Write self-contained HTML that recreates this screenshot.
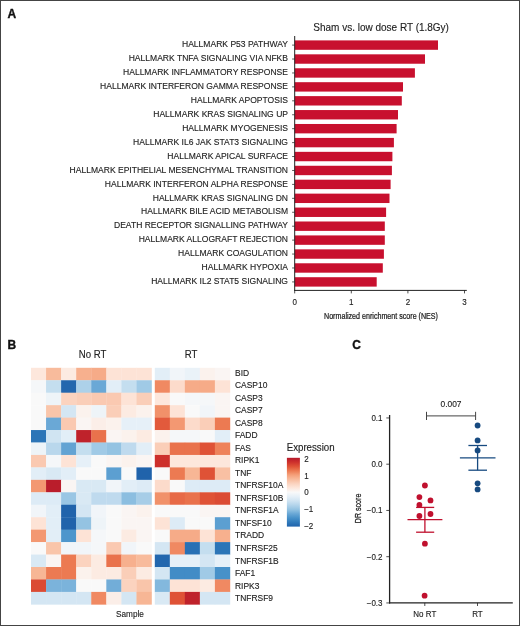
<!DOCTYPE html><html><head><meta charset="utf-8"><style>html,body{margin:0;padding:0;background:#fff}body{width:520px;height:626px;overflow:hidden}svg{display:block;will-change:transform}text{font-family:"Liberation Sans",sans-serif}</style></head><body>
<svg width="520" height="626" viewBox="0 0 520 626">
<rect x="0" y="0" width="520" height="626" fill="#fff"/>
<text transform="translate(7.60 17.60) scale(1.0 1)" x="0" y="0" font-size="12" text-anchor="start" fill="#111" stroke="#111" stroke-width="0.35" font-weight="bold">A</text>
<text transform="translate(7.40 348.80) scale(1.0 1)" x="0" y="0" font-size="12" text-anchor="start" fill="#111" stroke="#111" stroke-width="0.35" font-weight="bold">B</text>
<text transform="translate(352.20 348.80) scale(1.0 1)" x="0" y="0" font-size="12" text-anchor="start" fill="#111" stroke="#111" stroke-width="0.35" font-weight="bold">C</text>
<text transform="translate(313.30 30.50) scale(1.0 1.07)" x="0" y="0" font-size="10" text-anchor="start" fill="#222" stroke="#222" stroke-width="0.12">Sham vs. low dose RT (1.8Gy)</text>
<rect x="294.7" y="40.40" width="143.30" height="9.4" fill="#c8102e"/>
<text transform="translate(288.00 47.30) scale(1.0 1.07)" x="0" y="0" font-size="8.55" text-anchor="end" fill="#222" stroke="#222" stroke-width="0.12">HALLMARK P53 PATHWAY</text>
<line x1="292.09999999999997" x2="294.7" y1="45.10" y2="45.10" stroke="#333" stroke-width="0.8"/>
<rect x="294.7" y="54.33" width="130.30" height="9.4" fill="#c8102e"/>
<text transform="translate(288.00 61.23) scale(1.0 1.07)" x="0" y="0" font-size="8.55" text-anchor="end" fill="#222" stroke="#222" stroke-width="0.12">HALLMARK TNFA SIGNALING VIA NFKB</text>
<line x1="292.09999999999997" x2="294.7" y1="59.03" y2="59.03" stroke="#333" stroke-width="0.8"/>
<rect x="294.7" y="68.26" width="120.20" height="9.4" fill="#c8102e"/>
<text transform="translate(288.00 75.16) scale(1.0 1.07)" x="0" y="0" font-size="8.55" text-anchor="end" fill="#222" stroke="#222" stroke-width="0.12">HALLMARK INFLAMMATORY RESPONSE</text>
<line x1="292.09999999999997" x2="294.7" y1="72.96" y2="72.96" stroke="#333" stroke-width="0.8"/>
<rect x="294.7" y="82.19" width="108.30" height="9.4" fill="#c8102e"/>
<text transform="translate(288.00 89.09) scale(1.0 1.07)" x="0" y="0" font-size="8.55" text-anchor="end" fill="#222" stroke="#222" stroke-width="0.12">HALLMARK INTERFERON GAMMA RESPONSE</text>
<line x1="292.09999999999997" x2="294.7" y1="86.89" y2="86.89" stroke="#333" stroke-width="0.8"/>
<rect x="294.7" y="96.12" width="107.10" height="9.4" fill="#c8102e"/>
<text transform="translate(288.00 103.02) scale(1.0 1.07)" x="0" y="0" font-size="8.55" text-anchor="end" fill="#222" stroke="#222" stroke-width="0.12">HALLMARK APOPTOSIS</text>
<line x1="292.09999999999997" x2="294.7" y1="100.82" y2="100.82" stroke="#333" stroke-width="0.8"/>
<rect x="294.7" y="110.05" width="103.30" height="9.4" fill="#c8102e"/>
<text transform="translate(288.00 116.95) scale(1.0 1.07)" x="0" y="0" font-size="8.55" text-anchor="end" fill="#222" stroke="#222" stroke-width="0.12">HALLMARK KRAS SIGNALING UP</text>
<line x1="292.09999999999997" x2="294.7" y1="114.75" y2="114.75" stroke="#333" stroke-width="0.8"/>
<rect x="294.7" y="123.98" width="101.90" height="9.4" fill="#c8102e"/>
<text transform="translate(288.00 130.88) scale(1.0 1.07)" x="0" y="0" font-size="8.55" text-anchor="end" fill="#222" stroke="#222" stroke-width="0.12">HALLMARK MYOGENESIS</text>
<line x1="292.09999999999997" x2="294.7" y1="128.68" y2="128.68" stroke="#333" stroke-width="0.8"/>
<rect x="294.7" y="137.91" width="99.20" height="9.4" fill="#c8102e"/>
<text transform="translate(288.00 144.81) scale(1.0 1.07)" x="0" y="0" font-size="8.55" text-anchor="end" fill="#222" stroke="#222" stroke-width="0.12">HALLMARK IL6 JAK STAT3 SIGNALING</text>
<line x1="292.09999999999997" x2="294.7" y1="142.61" y2="142.61" stroke="#333" stroke-width="0.8"/>
<rect x="294.7" y="151.84" width="97.70" height="9.4" fill="#c8102e"/>
<text transform="translate(288.00 158.74) scale(1.0 1.07)" x="0" y="0" font-size="8.55" text-anchor="end" fill="#222" stroke="#222" stroke-width="0.12">HALLMARK APICAL SURFACE</text>
<line x1="292.09999999999997" x2="294.7" y1="156.54" y2="156.54" stroke="#333" stroke-width="0.8"/>
<rect x="294.7" y="165.77" width="97.20" height="9.4" fill="#c8102e"/>
<text transform="translate(288.00 172.67) scale(1.0 1.07)" x="0" y="0" font-size="8.55" text-anchor="end" fill="#222" stroke="#222" stroke-width="0.12">HALLMARK EPITHELIAL MESENCHYMAL TRANSITION</text>
<line x1="292.09999999999997" x2="294.7" y1="170.47" y2="170.47" stroke="#333" stroke-width="0.8"/>
<rect x="294.7" y="179.70" width="95.90" height="9.4" fill="#c8102e"/>
<text transform="translate(288.00 186.60) scale(1.0 1.07)" x="0" y="0" font-size="8.55" text-anchor="end" fill="#222" stroke="#222" stroke-width="0.12">HALLMARK INTERFERON ALPHA RESPONSE</text>
<line x1="292.09999999999997" x2="294.7" y1="184.40" y2="184.40" stroke="#333" stroke-width="0.8"/>
<rect x="294.7" y="193.63" width="94.80" height="9.4" fill="#c8102e"/>
<text transform="translate(288.00 200.53) scale(1.0 1.07)" x="0" y="0" font-size="8.55" text-anchor="end" fill="#222" stroke="#222" stroke-width="0.12">HALLMARK KRAS SIGNALING DN</text>
<line x1="292.09999999999997" x2="294.7" y1="198.33" y2="198.33" stroke="#333" stroke-width="0.8"/>
<rect x="294.7" y="207.56" width="91.40" height="9.4" fill="#c8102e"/>
<text transform="translate(288.00 214.46) scale(1.0 1.07)" x="0" y="0" font-size="8.55" text-anchor="end" fill="#222" stroke="#222" stroke-width="0.12">HALLMARK BILE ACID METABOLISM</text>
<line x1="292.09999999999997" x2="294.7" y1="212.26" y2="212.26" stroke="#333" stroke-width="0.8"/>
<rect x="294.7" y="221.49" width="90.10" height="9.4" fill="#c8102e"/>
<text transform="translate(288.00 228.39) scale(1.0 1.07)" x="0" y="0" font-size="8.55" text-anchor="end" fill="#222" stroke="#222" stroke-width="0.12">DEATH RECEPTOR SIGNALLING PATHWAY</text>
<line x1="292.09999999999997" x2="294.7" y1="226.19" y2="226.19" stroke="#333" stroke-width="0.8"/>
<rect x="294.7" y="235.42" width="90.10" height="9.4" fill="#c8102e"/>
<text transform="translate(288.00 242.32) scale(1.0 1.07)" x="0" y="0" font-size="8.55" text-anchor="end" fill="#222" stroke="#222" stroke-width="0.12">HALLMARK ALLOGRAFT REJECTION</text>
<line x1="292.09999999999997" x2="294.7" y1="240.12" y2="240.12" stroke="#333" stroke-width="0.8"/>
<rect x="294.7" y="249.35" width="89.20" height="9.4" fill="#c8102e"/>
<text transform="translate(288.00 256.25) scale(1.0 1.07)" x="0" y="0" font-size="8.55" text-anchor="end" fill="#222" stroke="#222" stroke-width="0.12">HALLMARK COAGULATION</text>
<line x1="292.09999999999997" x2="294.7" y1="254.05" y2="254.05" stroke="#333" stroke-width="0.8"/>
<rect x="294.7" y="263.28" width="88.10" height="9.4" fill="#c8102e"/>
<text transform="translate(288.00 270.18) scale(1.0 1.07)" x="0" y="0" font-size="8.55" text-anchor="end" fill="#222" stroke="#222" stroke-width="0.12">HALLMARK HYPOXIA</text>
<line x1="292.09999999999997" x2="294.7" y1="267.98" y2="267.98" stroke="#333" stroke-width="0.8"/>
<rect x="294.7" y="277.21" width="82.00" height="9.4" fill="#c8102e"/>
<text transform="translate(288.00 284.11) scale(1.0 1.07)" x="0" y="0" font-size="8.55" text-anchor="end" fill="#222" stroke="#222" stroke-width="0.12">HALLMARK IL2 STAT5 SIGNALING</text>
<line x1="292.09999999999997" x2="294.7" y1="281.91" y2="281.91" stroke="#333" stroke-width="0.8"/>
<line x1="294.7" x2="294.7" y1="36" y2="290.9" stroke="#222" stroke-width="1"/>
<line x1="294.2" x2="466.8" y1="290.4" y2="290.4" stroke="#222" stroke-width="1"/>
<line x1="294.70" x2="294.70" y1="290.4" y2="293.4" stroke="#222" stroke-width="0.8"/>
<text transform="translate(294.70 305.10) scale(1.0 1.07)" x="0" y="0" font-size="8" text-anchor="middle" fill="#222" stroke="#222" stroke-width="0.12">0</text>
<line x1="351.30" x2="351.30" y1="290.4" y2="293.4" stroke="#222" stroke-width="0.8"/>
<text transform="translate(351.30 305.10) scale(1.0 1.07)" x="0" y="0" font-size="8" text-anchor="middle" fill="#222" stroke="#222" stroke-width="0.12">1</text>
<line x1="407.90" x2="407.90" y1="290.4" y2="293.4" stroke="#222" stroke-width="0.8"/>
<text transform="translate(407.90 305.10) scale(1.0 1.07)" x="0" y="0" font-size="8" text-anchor="middle" fill="#222" stroke="#222" stroke-width="0.12">2</text>
<line x1="464.50" x2="464.50" y1="290.4" y2="293.4" stroke="#222" stroke-width="0.8"/>
<text transform="translate(464.50 305.10) scale(1.0 1.07)" x="0" y="0" font-size="8" text-anchor="middle" fill="#222" stroke="#222" stroke-width="0.12">3</text>
<text transform="translate(381.00 319.00) scale(0.81 1.0)" x="0" y="0" font-size="8.8" text-anchor="middle" fill="#222" stroke="#222" stroke-width="0.25">Normalized enrichment score (NES)</text>
<text transform="translate(92.60 357.60) scale(1.0 1.07)" x="0" y="0" font-size="9.6" text-anchor="middle" fill="#222" stroke="#222" stroke-width="0.12">No RT</text>
<text transform="translate(191.00 357.60) scale(1.0 1.07)" x="0" y="0" font-size="9.6" text-anchor="middle" fill="#222" stroke="#222" stroke-width="0.12">RT</text>
<rect x="31.00" y="367.80" width="15.36" height="12.75" fill="#fde7dc"/>
<rect x="46.06" y="367.80" width="15.36" height="12.75" fill="#f8bb9c"/>
<rect x="61.12" y="367.80" width="15.36" height="12.75" fill="#fcebe2"/>
<rect x="76.19" y="367.80" width="15.36" height="12.75" fill="#f7b08e"/>
<rect x="91.25" y="367.80" width="15.36" height="12.75" fill="#f6ab88"/>
<rect x="106.31" y="367.80" width="15.36" height="12.75" fill="#fde3d6"/>
<rect x="121.38" y="367.80" width="15.36" height="12.75" fill="#fde3d6"/>
<rect x="136.44" y="367.80" width="15.36" height="12.75" fill="#fde3d6"/>
<rect x="154.80" y="367.80" width="15.32" height="12.75" fill="#e2eef7"/>
<rect x="169.82" y="367.80" width="15.32" height="12.75" fill="#f1f5f9"/>
<rect x="184.84" y="367.80" width="15.32" height="12.75" fill="#eaf2f8"/>
<rect x="199.86" y="367.80" width="15.32" height="12.75" fill="#fbf2ed"/>
<rect x="214.88" y="367.80" width="15.32" height="12.75" fill="#faf5f3"/>
<text transform="translate(235.00 375.70) scale(1.0 1.07)" x="0" y="0" font-size="8.45" text-anchor="start" fill="#222" stroke="#222" stroke-width="0.12">BID</text>
<rect x="31.00" y="380.25" width="15.36" height="12.75" fill="#f5f7f9"/>
<rect x="46.06" y="380.25" width="15.36" height="12.75" fill="#c4deef"/>
<rect x="61.12" y="380.25" width="15.36" height="12.75" fill="#2367ae"/>
<rect x="76.19" y="380.25" width="15.36" height="12.75" fill="#add1e9"/>
<rect x="91.25" y="380.25" width="15.36" height="12.75" fill="#6aa8d6"/>
<rect x="106.31" y="380.25" width="15.36" height="12.75" fill="#e2eef7"/>
<rect x="121.38" y="380.25" width="15.36" height="12.75" fill="#c4deef"/>
<rect x="136.44" y="380.25" width="15.36" height="12.75" fill="#a0cae6"/>
<rect x="154.80" y="380.25" width="15.32" height="12.75" fill="#f08962"/>
<rect x="169.82" y="380.25" width="15.32" height="12.75" fill="#fcdbcb"/>
<rect x="184.84" y="380.25" width="15.32" height="12.75" fill="#f6ab88"/>
<rect x="199.86" y="380.25" width="15.32" height="12.75" fill="#f6ab88"/>
<rect x="214.88" y="380.25" width="15.32" height="12.75" fill="#fde3d6"/>
<text transform="translate(235.00 388.22) scale(1.0 1.07)" x="0" y="0" font-size="8.45" text-anchor="start" fill="#222" stroke="#222" stroke-width="0.12">CASP10</text>
<rect x="31.00" y="392.70" width="15.36" height="12.75" fill="#f9f9f9"/>
<rect x="46.06" y="392.70" width="15.36" height="12.75" fill="#eef4f8"/>
<rect x="61.12" y="392.70" width="15.36" height="12.75" fill="#fbd3bf"/>
<rect x="76.19" y="392.70" width="15.36" height="12.75" fill="#faceb8"/>
<rect x="91.25" y="392.70" width="15.36" height="12.75" fill="#fac9b1"/>
<rect x="106.31" y="392.70" width="15.36" height="12.75" fill="#fac9b1"/>
<rect x="121.38" y="392.70" width="15.36" height="12.75" fill="#fde3d6"/>
<rect x="136.44" y="392.70" width="15.36" height="12.75" fill="#faceb8"/>
<rect x="154.80" y="392.70" width="15.32" height="12.75" fill="#fde7dc"/>
<rect x="169.82" y="392.70" width="15.32" height="12.75" fill="#f9f9f9"/>
<rect x="184.84" y="392.70" width="15.32" height="12.75" fill="#f5f7f9"/>
<rect x="199.86" y="392.70" width="15.32" height="12.75" fill="#f5f7f9"/>
<rect x="214.88" y="392.70" width="15.32" height="12.75" fill="#faf5f3"/>
<text transform="translate(235.00 400.74) scale(1.0 1.07)" x="0" y="0" font-size="8.45" text-anchor="start" fill="#222" stroke="#222" stroke-width="0.12">CASP3</text>
<rect x="31.00" y="405.15" width="15.36" height="12.75" fill="#f9f9f9"/>
<rect x="46.06" y="405.15" width="15.36" height="12.75" fill="#f9c5aa"/>
<rect x="61.12" y="405.15" width="15.36" height="12.75" fill="#d4e6f3"/>
<rect x="76.19" y="405.15" width="15.36" height="12.75" fill="#fbf2ed"/>
<rect x="91.25" y="405.15" width="15.36" height="12.75" fill="#eef4f8"/>
<rect x="106.31" y="405.15" width="15.36" height="12.75" fill="#faceb8"/>
<rect x="121.38" y="405.15" width="15.36" height="12.75" fill="#fcebe2"/>
<rect x="136.44" y="405.15" width="15.36" height="12.75" fill="#fbf2ed"/>
<rect x="154.80" y="405.15" width="15.32" height="12.75" fill="#f1916a"/>
<rect x="169.82" y="405.15" width="15.32" height="12.75" fill="#fde3d6"/>
<rect x="184.84" y="405.15" width="15.32" height="12.75" fill="#f9f9f9"/>
<rect x="199.86" y="405.15" width="15.32" height="12.75" fill="#f1f5f9"/>
<rect x="214.88" y="405.15" width="15.32" height="12.75" fill="#faf5f3"/>
<text transform="translate(235.00 413.26) scale(1.0 1.07)" x="0" y="0" font-size="8.45" text-anchor="start" fill="#222" stroke="#222" stroke-width="0.12">CASP7</text>
<rect x="31.00" y="417.60" width="15.36" height="12.75" fill="#f9f9f9"/>
<rect x="46.06" y="417.60" width="15.36" height="12.75" fill="#6aa8d6"/>
<rect x="61.12" y="417.60" width="15.36" height="12.75" fill="#fac9b1"/>
<rect x="76.19" y="417.60" width="15.36" height="12.75" fill="#faf5f3"/>
<rect x="91.25" y="417.60" width="15.36" height="12.75" fill="#fbeee8"/>
<rect x="106.31" y="417.60" width="15.36" height="12.75" fill="#fbf2ed"/>
<rect x="121.38" y="417.60" width="15.36" height="12.75" fill="#e6f0f8"/>
<rect x="136.44" y="417.60" width="15.36" height="12.75" fill="#e6f0f8"/>
<rect x="154.80" y="417.60" width="15.32" height="12.75" fill="#e25a3c"/>
<rect x="169.82" y="417.60" width="15.32" height="12.75" fill="#f39872"/>
<rect x="184.84" y="417.60" width="15.32" height="12.75" fill="#fcdbcb"/>
<rect x="199.86" y="417.60" width="15.32" height="12.75" fill="#faceb8"/>
<rect x="214.88" y="417.60" width="15.32" height="12.75" fill="#ec7a52"/>
<text transform="translate(235.00 425.78) scale(1.0 1.07)" x="0" y="0" font-size="8.45" text-anchor="start" fill="#222" stroke="#222" stroke-width="0.12">CASP8</text>
<rect x="31.00" y="430.05" width="15.36" height="12.75" fill="#2c75b7"/>
<rect x="46.06" y="430.05" width="15.36" height="12.75" fill="#d0e4f2"/>
<rect x="61.12" y="430.05" width="15.36" height="12.75" fill="#e2eef7"/>
<rect x="76.19" y="430.05" width="15.36" height="12.75" fill="#bf222b"/>
<rect x="91.25" y="430.05" width="15.36" height="12.75" fill="#e9724c"/>
<rect x="106.31" y="430.05" width="15.36" height="12.75" fill="#faf5f3"/>
<rect x="121.38" y="430.05" width="15.36" height="12.75" fill="#fbf2ed"/>
<rect x="136.44" y="430.05" width="15.36" height="12.75" fill="#fcebe2"/>
<rect x="154.80" y="430.05" width="15.32" height="12.75" fill="#fbf2ed"/>
<rect x="169.82" y="430.05" width="15.32" height="12.75" fill="#f5f7f9"/>
<rect x="184.84" y="430.05" width="15.32" height="12.75" fill="#f5f7f9"/>
<rect x="199.86" y="430.05" width="15.32" height="12.75" fill="#f9f9f9"/>
<rect x="214.88" y="430.05" width="15.32" height="12.75" fill="#e2eef7"/>
<text transform="translate(235.00 438.30) scale(1.0 1.07)" x="0" y="0" font-size="8.45" text-anchor="start" fill="#222" stroke="#222" stroke-width="0.12">FADD</text>
<rect x="31.00" y="442.50" width="15.36" height="12.75" fill="#eef4f8"/>
<rect x="46.06" y="442.50" width="15.36" height="12.75" fill="#b9d7ec"/>
<rect x="61.12" y="442.50" width="15.36" height="12.75" fill="#63a3d3"/>
<rect x="76.19" y="442.50" width="15.36" height="12.75" fill="#c4deef"/>
<rect x="91.25" y="442.50" width="15.36" height="12.75" fill="#a0cae6"/>
<rect x="106.31" y="442.50" width="15.36" height="12.75" fill="#94c3e2"/>
<rect x="121.38" y="442.50" width="15.36" height="12.75" fill="#bfdaee"/>
<rect x="136.44" y="442.50" width="15.36" height="12.75" fill="#e2eef7"/>
<rect x="154.80" y="442.50" width="15.32" height="12.75" fill="#faceb8"/>
<rect x="169.82" y="442.50" width="15.32" height="12.75" fill="#e9724c"/>
<rect x="184.84" y="442.50" width="15.32" height="12.75" fill="#e9724c"/>
<rect x="199.86" y="442.50" width="15.32" height="12.75" fill="#df5236"/>
<rect x="214.88" y="442.50" width="15.32" height="12.75" fill="#ee825a"/>
<text transform="translate(235.00 450.82) scale(1.0 1.07)" x="0" y="0" font-size="8.45" text-anchor="start" fill="#222" stroke="#222" stroke-width="0.12">FAS</text>
<rect x="31.00" y="454.95" width="15.36" height="12.75" fill="#fac9b1"/>
<rect x="46.06" y="454.95" width="15.36" height="12.75" fill="#f5f7f9"/>
<rect x="61.12" y="454.95" width="15.36" height="12.75" fill="#fde3d6"/>
<rect x="76.19" y="454.95" width="15.36" height="12.75" fill="#e6f0f8"/>
<rect x="91.25" y="454.95" width="15.36" height="12.75" fill="#f9f9f9"/>
<rect x="106.31" y="454.95" width="15.36" height="12.75" fill="#faf5f3"/>
<rect x="121.38" y="454.95" width="15.36" height="12.75" fill="#fbf2ed"/>
<rect x="136.44" y="454.95" width="15.36" height="12.75" fill="#faf5f3"/>
<rect x="154.80" y="454.95" width="15.32" height="12.75" fill="#cd302c"/>
<rect x="169.82" y="454.95" width="15.32" height="12.75" fill="#fde7dc"/>
<rect x="184.84" y="454.95" width="15.32" height="12.75" fill="#fde7dc"/>
<rect x="199.86" y="454.95" width="15.32" height="12.75" fill="#fde7dc"/>
<rect x="214.88" y="454.95" width="15.32" height="12.75" fill="#fde7dc"/>
<text transform="translate(235.00 463.34) scale(1.0 1.07)" x="0" y="0" font-size="8.45" text-anchor="start" fill="#222" stroke="#222" stroke-width="0.12">RIPK1</text>
<rect x="31.00" y="467.40" width="15.36" height="12.75" fill="#e2eef7"/>
<rect x="46.06" y="467.40" width="15.36" height="12.75" fill="#d9e9f4"/>
<rect x="61.12" y="467.40" width="15.36" height="12.75" fill="#e2eef7"/>
<rect x="76.19" y="467.40" width="15.36" height="12.75" fill="#f9f9f9"/>
<rect x="91.25" y="467.40" width="15.36" height="12.75" fill="#f9f9f9"/>
<rect x="106.31" y="467.40" width="15.36" height="12.75" fill="#5c9fd1"/>
<rect x="121.38" y="467.40" width="15.36" height="12.75" fill="#f9f9f9"/>
<rect x="136.44" y="467.40" width="15.36" height="12.75" fill="#2063ab"/>
<rect x="154.80" y="467.40" width="15.32" height="12.75" fill="#f9f9f9"/>
<rect x="169.82" y="467.40" width="15.32" height="12.75" fill="#ec7a52"/>
<rect x="184.84" y="467.40" width="15.32" height="12.75" fill="#f7b695"/>
<rect x="199.86" y="467.40" width="15.32" height="12.75" fill="#df5236"/>
<rect x="214.88" y="467.40" width="15.32" height="12.75" fill="#f9c0a3"/>
<text transform="translate(235.00 475.86) scale(1.0 1.07)" x="0" y="0" font-size="8.45" text-anchor="start" fill="#222" stroke="#222" stroke-width="0.12">TNF</text>
<rect x="31.00" y="479.85" width="15.36" height="12.75" fill="#f39872"/>
<rect x="46.06" y="479.85" width="15.36" height="12.75" fill="#ba1d2b"/>
<rect x="61.12" y="479.85" width="15.36" height="12.75" fill="#faf5f3"/>
<rect x="76.19" y="479.85" width="15.36" height="12.75" fill="#d9e9f4"/>
<rect x="91.25" y="479.85" width="15.36" height="12.75" fill="#d9e9f4"/>
<rect x="106.31" y="479.85" width="15.36" height="12.75" fill="#f1f5f9"/>
<rect x="121.38" y="479.85" width="15.36" height="12.75" fill="#e2eef7"/>
<rect x="136.44" y="479.85" width="15.36" height="12.75" fill="#ddebf6"/>
<rect x="154.80" y="479.85" width="15.32" height="12.75" fill="#fcdbcb"/>
<rect x="169.82" y="479.85" width="15.32" height="12.75" fill="#f9f9f9"/>
<rect x="184.84" y="479.85" width="15.32" height="12.75" fill="#ddebf6"/>
<rect x="199.86" y="479.85" width="15.32" height="12.75" fill="#ddebf6"/>
<rect x="214.88" y="479.85" width="15.32" height="12.75" fill="#ddebf6"/>
<text transform="translate(235.00 488.38) scale(1.0 1.07)" x="0" y="0" font-size="8.45" text-anchor="start" fill="#222" stroke="#222" stroke-width="0.12">TNFRSF10A</text>
<rect x="31.00" y="492.30" width="15.36" height="12.75" fill="#ddebf6"/>
<rect x="46.06" y="492.30" width="15.36" height="12.75" fill="#ddebf6"/>
<rect x="61.12" y="492.30" width="15.36" height="12.75" fill="#9ac6e4"/>
<rect x="76.19" y="492.30" width="15.36" height="12.75" fill="#d9e9f4"/>
<rect x="91.25" y="492.30" width="15.36" height="12.75" fill="#bfdaee"/>
<rect x="106.31" y="492.30" width="15.36" height="12.75" fill="#bfdaee"/>
<rect x="121.38" y="492.30" width="15.36" height="12.75" fill="#8cbee0"/>
<rect x="136.44" y="492.30" width="15.36" height="12.75" fill="#a7cde7"/>
<rect x="154.80" y="492.30" width="15.32" height="12.75" fill="#f1916a"/>
<rect x="169.82" y="492.30" width="15.32" height="12.75" fill="#e76a47"/>
<rect x="184.84" y="492.30" width="15.32" height="12.75" fill="#e9724c"/>
<rect x="199.86" y="492.30" width="15.32" height="12.75" fill="#df5236"/>
<rect x="214.88" y="492.30" width="15.32" height="12.75" fill="#db4b34"/>
<text transform="translate(235.00 500.90) scale(1.0 1.07)" x="0" y="0" font-size="8.45" text-anchor="start" fill="#222" stroke="#222" stroke-width="0.12">TNFRSF10B</text>
<rect x="31.00" y="504.75" width="15.36" height="12.75" fill="#f1f5f9"/>
<rect x="46.06" y="504.75" width="15.36" height="12.75" fill="#e2eef7"/>
<rect x="61.12" y="504.75" width="15.36" height="12.75" fill="#2063ab"/>
<rect x="76.19" y="504.75" width="15.36" height="12.75" fill="#d4e6f3"/>
<rect x="91.25" y="504.75" width="15.36" height="12.75" fill="#f1f5f9"/>
<rect x="106.31" y="504.75" width="15.36" height="12.75" fill="#f9f9f9"/>
<rect x="121.38" y="504.75" width="15.36" height="12.75" fill="#faf5f3"/>
<rect x="136.44" y="504.75" width="15.36" height="12.75" fill="#fbf2ed"/>
<rect x="154.80" y="504.75" width="15.32" height="12.75" fill="#f9f9f9"/>
<rect x="169.82" y="504.75" width="15.32" height="12.75" fill="#f9f9f9"/>
<rect x="184.84" y="504.75" width="15.32" height="12.75" fill="#f9f9f9"/>
<rect x="199.86" y="504.75" width="15.32" height="12.75" fill="#faf5f3"/>
<rect x="214.88" y="504.75" width="15.32" height="12.75" fill="#faf5f3"/>
<text transform="translate(235.00 513.42) scale(1.0 1.07)" x="0" y="0" font-size="8.45" text-anchor="start" fill="#222" stroke="#222" stroke-width="0.12">TNFRSF1A</text>
<rect x="31.00" y="517.20" width="15.36" height="12.75" fill="#fde3d6"/>
<rect x="46.06" y="517.20" width="15.36" height="12.75" fill="#e2eef7"/>
<rect x="61.12" y="517.20" width="15.36" height="12.75" fill="#2063ab"/>
<rect x="76.19" y="517.20" width="15.36" height="12.75" fill="#94c3e2"/>
<rect x="91.25" y="517.20" width="15.36" height="12.75" fill="#eef4f8"/>
<rect x="106.31" y="517.20" width="15.36" height="12.75" fill="#f9f9f9"/>
<rect x="121.38" y="517.20" width="15.36" height="12.75" fill="#faf5f3"/>
<rect x="136.44" y="517.20" width="15.36" height="12.75" fill="#faf5f3"/>
<rect x="154.80" y="517.20" width="15.32" height="12.75" fill="#fde3d6"/>
<rect x="169.82" y="517.20" width="15.32" height="12.75" fill="#ddebf6"/>
<rect x="184.84" y="517.20" width="15.32" height="12.75" fill="#f9f9f9"/>
<rect x="199.86" y="517.20" width="15.32" height="12.75" fill="#f9f9f9"/>
<rect x="214.88" y="517.20" width="15.32" height="12.75" fill="#5c9fd1"/>
<text transform="translate(235.00 525.94) scale(1.0 1.07)" x="0" y="0" font-size="8.45" text-anchor="start" fill="#222" stroke="#222" stroke-width="0.12">TNFSF10</text>
<rect x="31.00" y="529.65" width="15.36" height="12.75" fill="#f39872"/>
<rect x="46.06" y="529.65" width="15.36" height="12.75" fill="#e2eef7"/>
<rect x="61.12" y="529.65" width="15.36" height="12.75" fill="#4e96cc"/>
<rect x="76.19" y="529.65" width="15.36" height="12.75" fill="#fde3d6"/>
<rect x="91.25" y="529.65" width="15.36" height="12.75" fill="#f5f7f9"/>
<rect x="106.31" y="529.65" width="15.36" height="12.75" fill="#f9f9f9"/>
<rect x="121.38" y="529.65" width="15.36" height="12.75" fill="#fcebe2"/>
<rect x="136.44" y="529.65" width="15.36" height="12.75" fill="#faf5f3"/>
<rect x="154.80" y="529.65" width="15.32" height="12.75" fill="#f9f9f9"/>
<rect x="169.82" y="529.65" width="15.32" height="12.75" fill="#f6ab88"/>
<rect x="184.84" y="529.65" width="15.32" height="12.75" fill="#f6ab88"/>
<rect x="199.86" y="529.65" width="15.32" height="12.75" fill="#fde3d6"/>
<rect x="214.88" y="529.65" width="15.32" height="12.75" fill="#f7b08e"/>
<text transform="translate(235.00 538.46) scale(1.0 1.07)" x="0" y="0" font-size="8.45" text-anchor="start" fill="#222" stroke="#222" stroke-width="0.12">TRADD</text>
<rect x="31.00" y="542.10" width="15.36" height="12.75" fill="#f9f9f9"/>
<rect x="46.06" y="542.10" width="15.36" height="12.75" fill="#f9c5aa"/>
<rect x="61.12" y="542.10" width="15.36" height="12.75" fill="#f1f5f9"/>
<rect x="76.19" y="542.10" width="15.36" height="12.75" fill="#f1f5f9"/>
<rect x="91.25" y="542.10" width="15.36" height="12.75" fill="#f5f7f9"/>
<rect x="106.31" y="542.10" width="15.36" height="12.75" fill="#fac9b1"/>
<rect x="121.38" y="542.10" width="15.36" height="12.75" fill="#f1f5f9"/>
<rect x="136.44" y="542.10" width="15.36" height="12.75" fill="#f9f9f9"/>
<rect x="154.80" y="542.10" width="15.32" height="12.75" fill="#d4e6f3"/>
<rect x="169.82" y="542.10" width="15.32" height="12.75" fill="#f08962"/>
<rect x="184.84" y="542.10" width="15.32" height="12.75" fill="#2970b4"/>
<rect x="199.86" y="542.10" width="15.32" height="12.75" fill="#c4deef"/>
<rect x="214.88" y="542.10" width="15.32" height="12.75" fill="#2c75b7"/>
<text transform="translate(235.00 550.98) scale(1.0 1.07)" x="0" y="0" font-size="8.45" text-anchor="start" fill="#222" stroke="#222" stroke-width="0.12">TNFRSF25</text>
<rect x="31.00" y="554.55" width="15.36" height="12.75" fill="#d9e9f4"/>
<rect x="46.06" y="554.55" width="15.36" height="12.75" fill="#faf5f3"/>
<rect x="61.12" y="554.55" width="15.36" height="12.75" fill="#ec7a52"/>
<rect x="76.19" y="554.55" width="15.36" height="12.75" fill="#fbd3bf"/>
<rect x="91.25" y="554.55" width="15.36" height="12.75" fill="#fcebe2"/>
<rect x="106.31" y="554.55" width="15.36" height="12.75" fill="#e9724c"/>
<rect x="121.38" y="554.55" width="15.36" height="12.75" fill="#f7b08e"/>
<rect x="136.44" y="554.55" width="15.36" height="12.75" fill="#f8bb9c"/>
<rect x="154.80" y="554.55" width="15.32" height="12.75" fill="#2367ae"/>
<rect x="169.82" y="554.55" width="15.32" height="12.75" fill="#e6f0f8"/>
<rect x="184.84" y="554.55" width="15.32" height="12.75" fill="#e6f0f8"/>
<rect x="199.86" y="554.55" width="15.32" height="12.75" fill="#d4e6f3"/>
<rect x="214.88" y="554.55" width="15.32" height="12.75" fill="#e6f0f8"/>
<text transform="translate(235.00 563.50) scale(1.0 1.07)" x="0" y="0" font-size="8.45" text-anchor="start" fill="#222" stroke="#222" stroke-width="0.12">TNFRSF1B</text>
<rect x="31.00" y="567.00" width="15.36" height="12.75" fill="#f7b695"/>
<rect x="46.06" y="567.00" width="15.36" height="12.75" fill="#ec7a52"/>
<rect x="61.12" y="567.00" width="15.36" height="12.75" fill="#ec7a52"/>
<rect x="76.19" y="567.00" width="15.36" height="12.75" fill="#fbf2ed"/>
<rect x="91.25" y="567.00" width="15.36" height="12.75" fill="#fcebe2"/>
<rect x="106.31" y="567.00" width="15.36" height="12.75" fill="#fcebe2"/>
<rect x="121.38" y="567.00" width="15.36" height="12.75" fill="#faceb8"/>
<rect x="136.44" y="567.00" width="15.36" height="12.75" fill="#fcebe2"/>
<rect x="154.80" y="567.00" width="15.32" height="12.75" fill="#d4e6f3"/>
<rect x="169.82" y="567.00" width="15.32" height="12.75" fill="#428cc6"/>
<rect x="184.84" y="567.00" width="15.32" height="12.75" fill="#428cc6"/>
<rect x="199.86" y="567.00" width="15.32" height="12.75" fill="#a0cae6"/>
<rect x="214.88" y="567.00" width="15.32" height="12.75" fill="#4791c9"/>
<text transform="translate(235.00 576.02) scale(1.0 1.07)" x="0" y="0" font-size="8.45" text-anchor="start" fill="#222" stroke="#222" stroke-width="0.12">FAF1</text>
<rect x="31.00" y="579.45" width="15.36" height="12.75" fill="#db4b34"/>
<rect x="46.06" y="579.45" width="15.36" height="12.75" fill="#7bb3db"/>
<rect x="61.12" y="579.45" width="15.36" height="12.75" fill="#7bb3db"/>
<rect x="76.19" y="579.45" width="15.36" height="12.75" fill="#f9f9f9"/>
<rect x="91.25" y="579.45" width="15.36" height="12.75" fill="#f9f9f9"/>
<rect x="106.31" y="579.45" width="15.36" height="12.75" fill="#72add8"/>
<rect x="121.38" y="579.45" width="15.36" height="12.75" fill="#fbd3bf"/>
<rect x="136.44" y="579.45" width="15.36" height="12.75" fill="#f9c5aa"/>
<rect x="154.80" y="579.45" width="15.32" height="12.75" fill="#83b8dd"/>
<rect x="169.82" y="579.45" width="15.32" height="12.75" fill="#fde3d6"/>
<rect x="184.84" y="579.45" width="15.32" height="12.75" fill="#fde3d6"/>
<rect x="199.86" y="579.45" width="15.32" height="12.75" fill="#fcebe2"/>
<rect x="214.88" y="579.45" width="15.32" height="12.75" fill="#f08962"/>
<text transform="translate(235.00 588.54) scale(1.0 1.07)" x="0" y="0" font-size="8.45" text-anchor="start" fill="#222" stroke="#222" stroke-width="0.12">RIPK3</text>
<rect x="31.00" y="591.90" width="15.36" height="12.75" fill="#d4e6f3"/>
<rect x="46.06" y="591.90" width="15.36" height="12.75" fill="#d4e6f3"/>
<rect x="61.12" y="591.90" width="15.36" height="12.75" fill="#d4e6f3"/>
<rect x="76.19" y="591.90" width="15.36" height="12.75" fill="#d4e6f3"/>
<rect x="91.25" y="591.90" width="15.36" height="12.75" fill="#f08962"/>
<rect x="106.31" y="591.90" width="15.36" height="12.75" fill="#fbeee8"/>
<rect x="121.38" y="591.90" width="15.36" height="12.75" fill="#d4e6f3"/>
<rect x="136.44" y="591.90" width="15.36" height="12.75" fill="#f7b695"/>
<rect x="154.80" y="591.90" width="15.32" height="12.75" fill="#d9e9f4"/>
<rect x="169.82" y="591.90" width="15.32" height="12.75" fill="#df5236"/>
<rect x="184.84" y="591.90" width="15.32" height="12.75" fill="#bf222b"/>
<rect x="199.86" y="591.90" width="15.32" height="12.75" fill="#d4e6f3"/>
<rect x="214.88" y="591.90" width="15.32" height="12.75" fill="#d4e6f3"/>
<text transform="translate(235.00 601.06) scale(1.0 1.07)" x="0" y="0" font-size="8.45" text-anchor="start" fill="#222" stroke="#222" stroke-width="0.12">TNFRSF9</text>
<text transform="translate(130.00 616.90) scale(1.0 1.07)" x="0" y="0" font-size="8.2" text-anchor="middle" fill="#222" stroke="#222" stroke-width="0.12">Sample</text>
<defs><linearGradient id="lg" x1="0" y1="0" x2="0" y2="1">
<stop offset="0.000" stop-color="#b5182b"/>
<stop offset="0.062" stop-color="#cd302c"/>
<stop offset="0.125" stop-color="#df5236"/>
<stop offset="0.188" stop-color="#ec7a52"/>
<stop offset="0.250" stop-color="#f5a07a"/>
<stop offset="0.312" stop-color="#f8bb9c"/>
<stop offset="0.375" stop-color="#fbd3bf"/>
<stop offset="0.438" stop-color="#fde7dc"/>
<stop offset="0.500" stop-color="#f9f9f9"/>
<stop offset="0.562" stop-color="#e6f0f8"/>
<stop offset="0.625" stop-color="#d0e4f2"/>
<stop offset="0.688" stop-color="#b3d4eb"/>
<stop offset="0.750" stop-color="#94c3e2"/>
<stop offset="0.812" stop-color="#6aa8d6"/>
<stop offset="0.875" stop-color="#4791c9"/>
<stop offset="0.938" stop-color="#2f79ba"/>
<stop offset="1.000" stop-color="#2063ab"/>
</linearGradient></defs>
<text transform="translate(286.70 451.30) scale(1.0 1.07)" x="0" y="0" font-size="9.7" text-anchor="start" fill="#222" stroke="#222" stroke-width="0.12">Expression</text>
<rect x="286.9" y="457.8" width="13" height="68.8" fill="url(#lg)"/>
<text transform="translate(304.20 462.10) scale(1.0 1.07)" x="0" y="0" font-size="8" text-anchor="start" fill="#222" stroke="#222" stroke-width="0.12">2</text>
<text transform="translate(304.20 478.75) scale(1.0 1.07)" x="0" y="0" font-size="8" text-anchor="start" fill="#222" stroke="#222" stroke-width="0.12">1</text>
<text transform="translate(304.20 495.40) scale(1.0 1.07)" x="0" y="0" font-size="8" text-anchor="start" fill="#222" stroke="#222" stroke-width="0.12">0</text>
<text transform="translate(304.20 512.05) scale(1.0 1.07)" x="0" y="0" font-size="8" text-anchor="start" fill="#222" stroke="#222" stroke-width="0.12">−1</text>
<text transform="translate(304.20 528.70) scale(1.0 1.07)" x="0" y="0" font-size="8" text-anchor="start" fill="#222" stroke="#222" stroke-width="0.12">−2</text>
<line x1="389.6" x2="389.6" y1="415" y2="603.5" stroke="#222" stroke-width="1.3"/>
<line x1="389.0" x2="512.8" y1="602.9" y2="602.9" stroke="#222" stroke-width="1.3"/>
<line x1="386.3" x2="389.6" y1="417.95" y2="417.95" stroke="#222" stroke-width="0.8"/>
<text transform="translate(382.50 420.85) scale(1.0 1.07)" x="0" y="0" font-size="8" text-anchor="end" fill="#222" stroke="#222" stroke-width="0.12">0.1</text>
<line x1="386.3" x2="389.6" y1="464.20" y2="464.20" stroke="#222" stroke-width="0.8"/>
<text transform="translate(382.50 467.10) scale(1.0 1.07)" x="0" y="0" font-size="8" text-anchor="end" fill="#222" stroke="#222" stroke-width="0.12">0.0</text>
<line x1="386.3" x2="389.6" y1="510.45" y2="510.45" stroke="#222" stroke-width="0.8"/>
<text transform="translate(382.50 513.35) scale(1.0 1.07)" x="0" y="0" font-size="8" text-anchor="end" fill="#222" stroke="#222" stroke-width="0.12">−0.1</text>
<line x1="386.3" x2="389.6" y1="556.70" y2="556.70" stroke="#222" stroke-width="0.8"/>
<text transform="translate(382.50 559.60) scale(1.0 1.07)" x="0" y="0" font-size="8" text-anchor="end" fill="#222" stroke="#222" stroke-width="0.12">−0.2</text>
<line x1="386.3" x2="389.6" y1="602.95" y2="602.95" stroke="#222" stroke-width="0.8"/>
<text transform="translate(382.50 605.85) scale(1.0 1.07)" x="0" y="0" font-size="8" text-anchor="end" fill="#222" stroke="#222" stroke-width="0.12">−0.3</text>
<line x1="424.8" x2="424.8" y1="602.9" y2="606" stroke="#222" stroke-width="0.8"/>
<text transform="translate(424.80 616.80) scale(1.0 1.07)" x="0" y="0" font-size="8.0" text-anchor="middle" fill="#222" stroke="#222" stroke-width="0.12">No RT</text>
<line x1="477.5" x2="477.5" y1="602.9" y2="606" stroke="#222" stroke-width="0.8"/>
<text transform="translate(477.50 616.80) scale(1.0 1.07)" x="0" y="0" font-size="8.0" text-anchor="middle" fill="#222" stroke="#222" stroke-width="0.12">RT</text>
<text transform="translate(360.50 508.40) rotate(-90) scale(0.77 1.0)" x="0" y="0" font-size="9.2" text-anchor="middle" fill="#222" stroke="#222" stroke-width="0.28">DR score</text>
<g stroke="#444" stroke-width="1" fill="none"><line x1="426.5" x2="475.6" y1="415.9" y2="415.9"/><line x1="426.5" x2="426.5" y1="411.8" y2="420"/><line x1="475.6" x2="475.6" y1="411.8" y2="420"/></g>
<text transform="translate(451.00 406.60) scale(1.0 1.07)" x="0" y="0" font-size="8.4" text-anchor="middle" fill="#222" stroke="#222" stroke-width="0.12">0.007</text>
<circle cx="424.9" cy="485.5" r="2.9" fill="#c0102e"/>
<circle cx="419.4" cy="497.1" r="2.9" fill="#c0102e"/>
<circle cx="430.5" cy="500.4" r="2.9" fill="#c0102e"/>
<circle cx="419.4" cy="505" r="2.9" fill="#c0102e"/>
<circle cx="419.4" cy="516" r="2.9" fill="#c0102e"/>
<circle cx="430.5" cy="514" r="2.9" fill="#c0102e"/>
<circle cx="424.9" cy="543.7" r="2.9" fill="#c0102e"/>
<circle cx="424.6" cy="595.7" r="2.9" fill="#c0102e"/>
<g stroke="#c0102e" stroke-width="1.3"><line x1="407.5" x2="442.4" y1="519.6" y2="519.6"/><line x1="424.9" x2="424.9" y1="507.4" y2="532.2"/><line x1="416.1" x2="434.2" y1="507.4" y2="507.4"/><line x1="416.1" x2="434.2" y1="532.2" y2="532.2"/></g>
<circle cx="477.6" cy="425.5" r="2.9" fill="#174a80"/>
<circle cx="477.6" cy="440.4" r="2.9" fill="#174a80"/>
<circle cx="477.6" cy="450.4" r="2.9" fill="#174a80"/>
<circle cx="477.6" cy="483.3" r="2.9" fill="#174a80"/>
<circle cx="477.6" cy="489.4" r="2.9" fill="#174a80"/>
<g stroke="#174a80" stroke-width="1.3"><line x1="459.9" x2="495.5" y1="457.9" y2="457.9"/><line x1="477.6" x2="477.6" y1="445.5" y2="470.2"/><line x1="468.4" x2="487" y1="445.5" y2="445.5"/><line x1="468.4" x2="487" y1="470.2" y2="470.2"/></g>
<rect x="0.5" y="0.5" width="519" height="625" fill="none" stroke="#444" stroke-width="1"/>
</svg></body></html>
